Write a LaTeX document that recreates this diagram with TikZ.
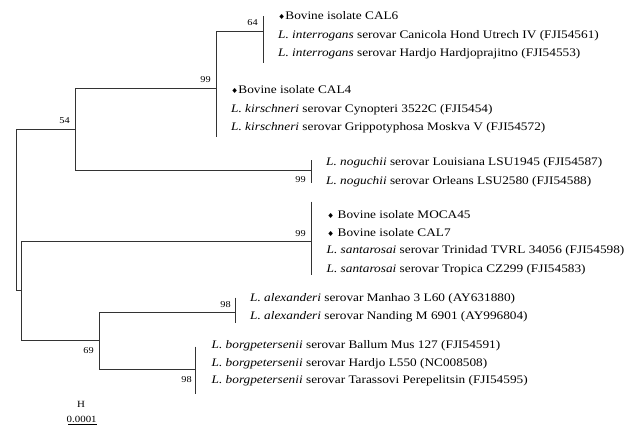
\documentclass[tikz,border=0pt]{standalone}
\usepackage{fontspec}
\setmainfont[FakeStretch=1.15]{Liberation Serif}
\newfontfamily\dejavu[FakeStretch=1.15]{DejaVu Sans}
\usetikzlibrary{positioning}
\newcommand{\dmd}{{\dejavu\fontsize{7}{7}\selectfont ♦}}

\tikzset{
  leaf/.style={anchor=west, inner sep=0pt, text height=7.6bp, text depth=0pt, font=\fontsize{11.6}{13}\selectfont},
  boot/.style={inner sep=0pt, text height=6.5bp, text depth=0pt, font=\fontsize{9}{10}\selectfont},
  branch/.style={line width=0.9bp, black!80}
}

\begin{document}
\begin{tikzpicture}[x=1bp, y=-1bp]
    \useasboundingbox (0,0) rectangle (633,428);

    % branch points
    \coordinate (root) at (16,210);
    \coordinate (c54) at (75,129);
    \coordinate (c99a) at (216,88);
    \coordinate (c64) at (263,31);
    \coordinate (c99b) at (311,170);
    \coordinate (c21) at (21,290.7);
    \coordinate (c99c) at (311,241.7);
    \coordinate (c69) at (99,340.7);
    \coordinate (c98a) at (235,312.3);
    \coordinate (c98b) at (195,369.3);

    % ends of the clade bars
    \coordinate (t64) at (263,16);
    \coordinate (b64) at (263,63.3);
    \coordinate (b99a) at (216,136.7);
    \coordinate (t99b) at (311,160);
    \coordinate (b99b) at (311,183);
    \coordinate (t99c) at (311,201.7);
    \coordinate (b99c) at (311,275);
    \coordinate (t98a) at (235,297.5);
    \coordinate (b98a) at (235,323);
    \coordinate (t98b) at (195,346.7);
    \coordinate (b98b) at (195,394.3);

    \begin{scope}[branch]
      \draw (root) |- (c54);
      \draw (root) |- (c21);
      \draw (c54) |- (c99a);
      \draw (c54) |- (c99b);
      \draw (c99a) |- (c64);
      \draw (c99a) -- (b99a);
      \draw (t64) -- (b64);
      \draw (t99b) -- (b99b);
      \draw (c21) |- (c99c);
      \draw (c21) |- (c69);
      \draw (t99c) -- (b99c);
      \draw (c69) |- (c98a);
      \draw (c69) |- (c98b);
      \draw (t98a) -- (b98a);
      \draw (t98b) -- (b98b);
    \end{scope}

    % bootstrap values
    \begin{scope}[every node/.style={boot}]
      \node[above left=5bp and 5bp of c54] (bs54) {54};
      \node[above left=5bp and 5bp of c99a] (bs99a) {99};
      \node[above left=5bp and 5bp of c64] (bs64) {64};
      \node[below left=6bp and 5bp of c99b] (bs99b) {99};
      \node[above left=5bp and 5bp of c99c] (bs99c) {99};
      \node[below left=6.5bp and 5bp of c69] (bs69) {69};
      \node[above left=5bp and 4bp of c98a] (bs98a) {98};
      \node[below left=6.5bp and 3bp of c98b] (bs98b) {98};
    \end{scope}

    % taxa
    \begin{scope}[every node/.style={leaf}]
      \node (cal6) at (278,16) {\dmd Bovine isolate CAL6};
      \node (hond) at (278,35) {\textit{L. interrogans} serovar Canicola Hond Utrech IV (FJI54561)};
      \node (hardjoI) at (278,53) {\textit{L. interrogans} serovar Hardjo Hardjoprajitno (FJI54553)};
      \node (cal4) at (231,90) {\dmd Bovine isolate CAL4};
      \node (cyno) at (231,108.3) {\textit{L. kirschneri} serovar Cynopteri 3522C (FJI5454)};
      \node (grippo) at (231,126.7) {\textit{L. kirschneri} serovar Grippotyphosa Moskva V (FJI54572)};
      \node (louis) at (326,162) {\textit{L. noguchii} serovar Louisiana LSU1945 (FJI54587)};
      \node (orleans) at (326,181) {\textit{L. noguchii} serovar Orleans LSU2580 (FJI54588)};
      \node (moca) at (327,215) {\dmd\ Bovine isolate MOCA45};
      \node (cal7) at (327,232.7) {\dmd\ Bovine isolate CAL7};
      \node (trin) at (326.5,250) {\textit{L. santarosai} serovar Trinidad TVRL 34056 (FJI54598)};
      \node (trop) at (326.5,268.3) {\textit{L. santarosai} serovar Tropica CZ299 (FJI54583)};
      \node (manhao) at (250,297.7) {\textit{L. alexanderi} serovar Manhao 3 L60 (AY631880)};
      \node (nanding) at (250,315.5) {\textit{L. alexanderi} serovar Nanding M 6901 (AY996804)};
      \node (ballum) at (211.5,345) {\textit{L. borgpetersenii} serovar Ballum Mus 127 (FJI54591)};
      \node (hardjoB) at (211.5,362.7) {\textit{L. borgpetersenii} serovar Hardjo L550 (NC008508)};
      \node (tarass) at (211.5,380) {\textit{L. borgpetersenii} serovar Tarassovi Perepelitsin (FJI54595)};
    \end{scope}

    % scale bar
    \coordinate (sbl) at (68.3,424.7);
    \coordinate (sbr) at (96.7,424.7);
    \draw[line width=1.3bp] (sbl) -- (sbr);
    \node[boot, font=\fontsize{9.5}{10}\selectfont] (sbval) at (81.7,419) {0.0001};
    \node[boot, font=\fontsize{9.5}{10}\selectfont] (sbH) at (81,404) {H};

\end{tikzpicture}
\end{document}
